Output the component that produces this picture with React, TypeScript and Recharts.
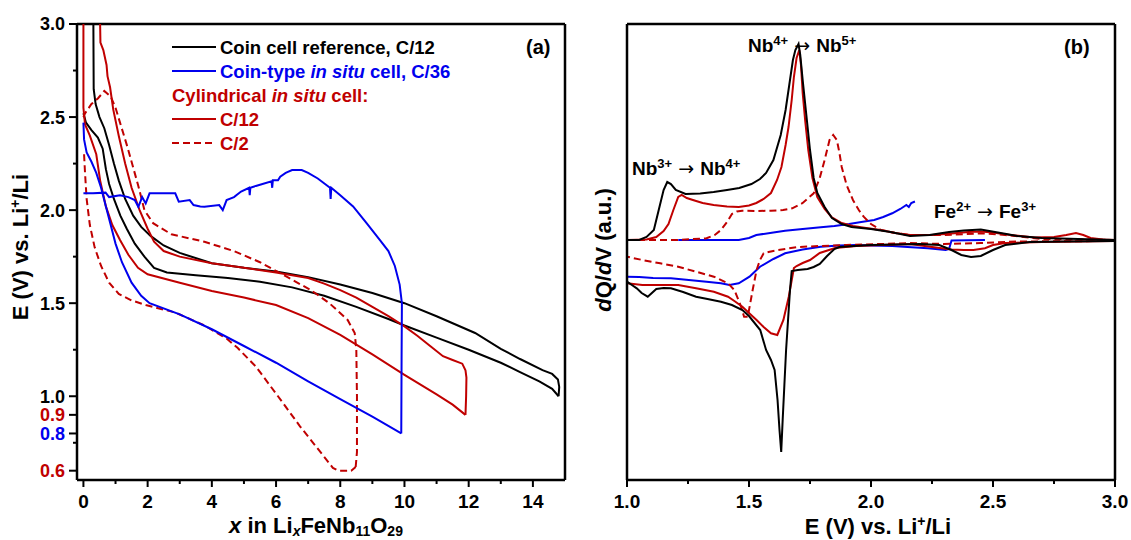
import React from 'react';
import { LineChart, Line, XAxis, YAxis, ReferenceLine } from 'recharts';

type Pt = [number, number];

// ---- (a) voltage profiles: [x in LixFeNb11O29, E (V)] ----
const coinRefDischarge: Pt[] = [
  [0, 2.52], [0.08, 2.47], [0.25, 2.43], [0.45, 2.39], [0.6, 2.33], [0.7, 2.22], [0.8, 2.14],
  [0.95, 2.06], [1.15, 1.97], [1.35, 1.9], [1.6, 1.82], [1.9, 1.75], [2.2, 1.69], [2.6, 1.665],
  [3.5, 1.65], [4.5, 1.635], [5.5, 1.615], [6.5, 1.585], [7.5, 1.54], [8.5, 1.48], [9.5, 1.415],
  [10, 1.38], [11, 1.315], [12, 1.25], [13, 1.18], [13.6, 1.13], [14.2, 1.08], [14.6, 1.04], [14.8, 1.0],
];
const coinRefCharge: Pt[] = [
  [14.8, 1.0], [14.82, 1.05], [14.78, 1.09], [14.6, 1.12], [14.3, 1.14], [13.6, 1.2], [13, 1.255],
  [12.2, 1.34], [11, 1.43], [10, 1.5], [9, 1.555], [8, 1.6], [7, 1.64], [6, 1.67], [5, 1.69],
  [4, 1.715], [3, 1.77], [2.5, 1.81], [2.1, 1.86], [1.8, 1.91], [1.55, 1.97], [1.3, 2.06],
  [1.1, 2.16], [0.95, 2.25], [0.8, 2.35], [0.65, 2.44], [0.5, 2.5], [0.38, 2.57], [0.32, 2.65], [0.31, 3.0],
];
const insituCoinDischarge: Pt[] = [
  [0, 2.47], [0.02, 2.38], [0.1, 2.31], [0.25, 2.26], [0.4, 2.2], [0.55, 2.12], [0.7, 2.02],
  [0.85, 1.92], [1.0, 1.82], [1.2, 1.72], [1.5, 1.61], [1.8, 1.54], [2.06, 1.5], [3, 1.44],
  [4, 1.36], [5, 1.27], [6, 1.18], [7, 1.08], [8, 0.985], [9, 0.89], [9.9, 0.8],
];
const insituCoinCharge: Pt[] = [
  [9.9, 0.8], [9.91, 1.2], [9.92, 1.5], [9.85, 1.6], [9.7, 1.7], [9.5, 1.78], [9.23, 1.84],
  [8.82, 1.93], [8.4, 2.02], [8.0, 2.08], [7.72, 2.12], [7.7, 2.06], [7.68, 2.12], [7.3, 2.17],
  [7.0, 2.2], [6.8, 2.215], [6.5, 2.215], [6.3, 2.2], [6.13, 2.18], [6.06, 2.16], [5.9, 2.16],
  [5.88, 2.12], [5.86, 2.155], [5.37, 2.13], [5.2, 2.12], [5.18, 2.08], [5.16, 2.12], [4.91, 2.1],
  [4.69, 2.07], [4.46, 2.054], [4.34, 2.0], [4.23, 2.027], [3.77, 2.018], [3.64, 2.02],
  [3.43, 2.027], [3.31, 2.054], [2.97, 2.045], [2.86, 2.09], [2.3, 2.09], [2.06, 2.09],
  [1.94, 2.036], [1.83, 2.07], [1.71, 2.018], [1.6, 2.054], [1.4, 2.07], [1.14, 2.08],
  [0.8, 2.07], [0.69, 2.094], [0.3, 2.09], [0, 2.09],
];
const cylSlowDischarge: Pt[] = [
  [0, 3.0], [0, 2.55], [0.05, 2.46], [0.2, 2.4], [0.4, 2.3], [0.52, 2.16], [0.7, 2.02],
  [0.9, 1.92], [1.14, 1.84], [1.4, 1.76], [1.7, 1.69], [2.0, 1.655], [3, 1.61], [4, 1.565],
  [5, 1.53], [6, 1.49], [7, 1.42], [8, 1.33], [9, 1.225], [10, 1.115], [11, 1.01], [11.5, 0.955], [11.9, 0.9],
];
const cylSlowCharge: Pt[] = [
  [11.9, 0.9], [11.92, 1.0], [11.93, 1.1], [11.9, 1.14], [11.8, 1.175], [11.5, 1.195],
  [11.2, 1.215], [10.8, 1.27], [10.4, 1.325], [10, 1.375], [9.5, 1.43], [9, 1.48], [8.5, 1.53],
  [8, 1.57], [7.5, 1.605], [7, 1.635], [6, 1.665], [5, 1.69], [4, 1.715], [3, 1.75], [2.5, 1.78],
  [2.2, 1.83], [2.0, 1.9], [1.75, 2.0], [1.5, 2.12], [1.3, 2.25], [1.1, 2.4], [0.93, 2.54],
  [0.83, 2.66], [0.75, 2.72], [0.72, 2.78], [0.62, 2.86], [0.53, 2.9], [0.52, 3.0],
];
const cylFastDischarge: Pt[] = [
  [0.02, 2.3], [0.05, 2.2], [0.1, 2.06], [0.2, 1.92], [0.35, 1.8], [0.55, 1.7], [0.8, 1.61],
  [1.1, 1.55], [1.5, 1.515], [1.94, 1.49], [2.86, 1.45], [3.77, 1.38], [4.46, 1.31], [4.8, 1.26],
  [5.37, 1.16], [6.06, 1.0], [6.74, 0.84], [7.43, 0.69], [7.77, 0.615], [7.95, 0.6], [8.34, 0.6], [8.48, 0.62],
];
const cylFastCharge: Pt[] = [
  [8.48, 0.62], [8.52, 0.7], [8.52, 1.0], [8.5, 1.25], [8.45, 1.34], [8.23, 1.41], [7.66, 1.5],
  [7.09, 1.57], [6.3, 1.645], [5.5, 1.72], [4.69, 1.78], [3.77, 1.83], [2.74, 1.87], [2.17, 1.93],
  [1.9, 2.0], [1.71, 2.13], [1.37, 2.34], [1.14, 2.47], [1.0, 2.55], [0.85, 2.61], [0.65, 2.64],
  [0.45, 2.6], [0.25, 2.57], [0.05, 2.52], [0, 2.5],
];

const xTicksA = [0, 1, 2, 3, 4, 5, 6, 7, 8, 9, 10, 11, 12, 13, 14];
const yTicksA = [0.6, 0.75, 0.8, 0.9, 1.0, 1.25, 1.5, 1.75, 2.0, 2.25, 2.5, 2.75, 3.0];
const yLabelColorsA: Record<string, string> = {
  '0.6': '#c00000', '0.8': '#0000ee', '0.9': '#c00000', '1.0': '#000', '1.5': '#000',
  '2.0': '#000', '2.5': '#000', '3.0': '#000',
};

// ---- (b) differential capacity: [E (V), dQ/dV (a.u.)] ----
const coinRefOx: Pt[] = [
  [1.0, 0], [1.05, 0], [1.08, 0.03], [1.11, 0.1], [1.13, 0.3], [1.15, 0.5], [1.165, 0.58],
  [1.18, 0.56], [1.2, 0.5], [1.24, 0.46], [1.3, 0.465], [1.355, 0.48], [1.41, 0.5], [1.46, 0.52],
  [1.51, 0.56], [1.545, 0.61], [1.57, 0.67], [1.6, 0.8], [1.63, 1.05], [1.65, 1.3], [1.665, 1.55],
  [1.68, 1.8], [1.69, 1.9], [1.703, 1.96], [1.71, 1.85], [1.72, 1.6], [1.735, 1.25], [1.75, 0.9],
  [1.765, 0.62], [1.78, 0.47], [1.81, 0.33], [1.84, 0.22], [1.88, 0.16], [1.92, 0.13], [2.0, 0.11],
  [2.08, 0.08], [2.16, 0.04], [2.24, 0.05], [2.32, 0.08], [2.38, 0.095], [2.45, 0.105],
  [2.52, 0.075], [2.6, 0.04], [2.7, 0.02], [2.85, 0.01], [3.0, 0],
];
const coinRefRed: Pt[] = [
  [3.0, -0.01], [2.8, -0.015], [2.65, -0.02], [2.55, -0.05], [2.5, -0.1], [2.45, -0.16],
  [2.41, -0.17], [2.37, -0.15], [2.33, -0.1], [2.28, -0.05], [2.2, -0.04], [2.1, -0.045],
  [2.0, -0.05], [1.93, -0.06], [1.87, -0.07], [1.85, -0.09], [1.82, -0.16], [1.79, -0.24],
  [1.765, -0.27], [1.74, -0.29], [1.7, -0.3], [1.675, -0.31], [1.668, -0.5], [1.66, -0.8],
  [1.652, -1.1], [1.645, -1.45], [1.638, -1.8], [1.632, -2.12], [1.625, -1.9], [1.617, -1.6],
  [1.605, -1.3], [1.59, -1.2], [1.57, -1.1], [1.546, -0.9], [1.5, -0.76], [1.473, -0.7],
  [1.43, -0.65], [1.385, -0.617], [1.33, -0.59], [1.283, -0.567], [1.23, -0.52], [1.18, -0.483],
  [1.15, -0.48], [1.12, -0.49], [1.085, -0.567], [1.06, -0.53], [1.04, -0.483], [1.02, -0.45], [1.0, -0.417],
];
const cylSlowOx: Pt[] = [
  [1.0, 0], [1.08, 0.005], [1.12, 0.03], [1.15, 0.09], [1.17, 0.16], [1.19, 0.3], [1.21, 0.43],
  [1.224, 0.45], [1.245, 0.42], [1.27, 0.4], [1.31, 0.37], [1.355, 0.35], [1.41, 0.335],
  [1.458, 0.33], [1.5, 0.345], [1.53, 0.37], [1.56, 0.41], [1.59, 0.47], [1.615, 0.6],
  [1.633, 0.73], [1.65, 0.95], [1.662, 1.13], [1.675, 1.4], [1.684, 1.63], [1.695, 1.82],
  [1.706, 1.9], [1.713, 1.75], [1.72, 1.47], [1.73, 1.2], [1.743, 0.9], [1.76, 0.62], [1.78, 0.43],
  [1.81, 0.31], [1.838, 0.23], [1.88, 0.17], [1.926, 0.14], [1.98, 0.12], [2.04, 0.1], [2.1, 0.07],
  [2.16, 0.05], [2.25, 0.05], [2.33, 0.065], [2.4, 0.08], [2.45, 0.085], [2.5, 0.075], [2.57, 0.05],
  [2.67, 0.025], [2.75, 0.03], [2.8, 0.05], [2.84, 0.07], [2.87, 0.05], [2.9, 0.02], [2.95, 0.005], [3.0, 0],
];
const cylSlowRed: Pt[] = [
  [3.0, -0.01], [2.7, -0.02], [2.55, -0.03], [2.5, -0.05], [2.467, -0.083], [2.42, -0.1],
  [2.38, -0.1], [2.33, -0.095], [2.25, -0.07], [2.16, -0.04], [2.04, -0.05], [1.94, -0.06],
  [1.853, -0.08], [1.79, -0.13], [1.75, -0.2], [1.72, -0.23], [1.695, -0.26], [1.684, -0.28],
  [1.663, -0.567], [1.641, -0.8], [1.616, -0.95], [1.59, -0.933], [1.56, -0.87], [1.531, -0.8],
  [1.5, -0.73], [1.473, -0.667], [1.44, -0.61], [1.414, -0.567], [1.356, -0.517], [1.283, -0.483],
  [1.21, -0.45], [1.13, -0.45], [1.063, -0.45], [1.0, -0.433],
];
const cylFastOx: Pt[] = [
  [1.0, 0], [1.2, 0], [1.326, 0.017], [1.36, 0.05], [1.385, 0.1], [1.41, 0.18], [1.43, 0.26],
  [1.45, 0.285], [1.472, 0.293], [1.53, 0.29], [1.59, 0.293], [1.64, 0.3], [1.677, 0.317],
  [1.72, 0.37], [1.765, 0.467], [1.79, 0.62], [1.81, 0.8], [1.83, 1.0], [1.845, 1.05], [1.86, 1.0],
  [1.87, 0.88], [1.88, 0.73], [1.9, 0.55], [1.926, 0.4], [1.95, 0.3], [1.97, 0.233], [2.0, 0.16],
  [2.04, 0.1], [2.1, 0.07], [2.16, 0.05], [2.3, 0.05], [2.45, 0.067], [2.55, 0.05], [2.7, 0.01], [3.0, 0],
];
const cylFastRed: Pt[] = [
  [3.0, -0.01], [2.6, -0.015], [2.45, -0.03], [2.3, -0.04], [2.16, -0.03], [2.04, -0.04],
  [1.9, -0.05], [1.79, -0.06], [1.7, -0.07], [1.62, -0.1], [1.58, -0.12], [1.56, -0.133],
  [1.545, -0.2], [1.531, -0.3], [1.515, -0.5], [1.505, -0.633], [1.495, -0.767], [1.48, -0.767],
  [1.465, -0.65], [1.44, -0.5], [1.414, -0.433], [1.356, -0.367], [1.283, -0.317], [1.21, -0.267],
  [1.136, -0.233], [1.063, -0.2], [1.0, -0.167],
];
const insituCoinOx: Pt[] = [
  [1.21, 0], [1.458, 0], [1.5, 0.02], [1.53, 0.05], [1.6, 0.075], [1.648, 0.093], [1.72, 0.11],
  [1.794, 0.127], [1.85, 0.14], [1.91, 0.16], [1.96, 0.18], [2.013, 0.2], [2.05, 0.23],
  [2.087, 0.267], [2.12, 0.31], [2.145, 0.35], [2.155, 0.33], [2.165, 0.37], [2.18, 0.385],
];
const insituCoinRed: Pt[] = [
  [2.467, 0], [2.33, -0.005], [2.32, -0.09], [2.306, -0.1], [2.233, -0.083], [2.15, -0.07],
  [2.087, -0.06], [2.0, -0.055], [1.94, -0.05], [1.87, -0.055], [1.794, -0.067], [1.72, -0.095],
  [1.648, -0.133], [1.6, -0.19], [1.545, -0.267], [1.531, -0.3], [1.502, -0.367], [1.458, -0.433],
  [1.42, -0.45], [1.385, -0.433], [1.326, -0.417], [1.253, -0.4], [1.18, -0.383], [1.107, -0.38],
  [1.05, -0.37], [1.0, -0.367],
];

const xTicksB = [1.0, 1.25, 1.5, 1.75, 2.0, 2.25, 2.5, 2.75, 3.0];

const BLACK = '#000000';
const RED = '#c00000';
const BLUE = '#0000ee';
const FONT = 'Arial, "Liberation Sans", Helvetica, sans-serif';
const ARROW_FONT = '"DejaVu Sans", sans-serif';
const DASH = '7 4';

const rows = (pts: Pt[]) => pts.map(([x, y]) => ({ x, y }));

const curve = (pts: Pt[], color: string, key: string, dashed = false) => (
  <Line
    key={key}
    data={rows(pts)}
    dataKey="y"
    type="linear"
    stroke={color}
    strokeWidth={2}
    strokeDasharray={dashed ? DASH : undefined}
    dot={false}
    activeDot={false}
    isAnimationActive={false}
  />
);

// bottom ticks: tickSize/tickMargin are 0 so (x, y) sits on the axis line
const bottomTick = (isMajor: (v: number) => boolean, fmt: (v: number) => string) => (props: any) => {
  const { x, y, payload } = props;
  const v = payload.value as number;
  const major = isMajor(v);
  return (
    <g>
      <line x1={x} y1={y} x2={x} y2={y + (major ? 7 : 4)} stroke={BLACK} strokeWidth={2} />
      {major && (
        <text x={x} y={y + 28} textAnchor="middle" fontFamily={FONT} fontWeight="bold" fontSize={19} fill={BLACK}>
          {fmt(v)}
        </text>
      )}
    </g>
  );
};

const leftTickA = (props: any) => {
  const { x, y, payload } = props;
  const key = (payload.value as number).toFixed(1);
  const color = yLabelColorsA[key];
  const major = color !== undefined && Math.abs(payload.value * 100 - Math.round(payload.value * 10) * 10) < 1e-6;
  return (
    <g>
      <line x1={x} y1={y} x2={x - (major ? 8 : 4)} y2={y} stroke={BLACK} strokeWidth={2} />
      {major && (
        <text x={x - 12} y={y} dy="0.36em" textAnchor="end" fontFamily={FONT} fontWeight="bold" fontSize={18} fill={color}>
          {key}
        </text>
      )}
    </g>
  );
};

const axisStyle = { stroke: BLACK, strokeWidth: 2.5 };

function VoltageProfiles() {
  return (
    <LineChart width={600} height={540} margin={{ top: 24, right: 35, bottom: 30, left: 17 }}>
      <XAxis
        type="number"
        dataKey="x"
        domain={[-0.2, 15]}
        allowDataOverflow
        ticks={xTicksA}
        interval={0}
        height={30}
        tickSize={0}
        tickMargin={0}
        tickLine={false}
        axisLine={axisStyle}
        tick={bottomTick((v) => v % 2 === 0, (v) => String(v))}
      />
      <YAxis
        type="number"
        domain={[0.55, 3.0]}
        allowDataOverflow
        ticks={yTicksA}
        interval={0}
        width={60}
        tickSize={0}
        tickMargin={0}
        tickLine={false}
        axisLine={axisStyle}
        tick={leftTickA}
      />
      <ReferenceLine y={3.0} stroke={BLACK} strokeWidth={2.5} />
      <ReferenceLine x={15} stroke={BLACK} strokeWidth={2.5} />
      {curve(coinRefDischarge, BLACK, 'crd')}
      {curve(coinRefCharge, BLACK, 'crc')}
      {curve(cylFastDischarge, RED, 'cfd', true)}
      {curve(cylFastCharge, RED, 'cfc', true)}
      {curve(cylSlowDischarge, RED, 'csd')}
      {curve(cylSlowCharge, RED, 'csc')}
      {curve(insituCoinDischarge, BLUE, 'icd')}
      {curve(insituCoinCharge, BLUE, 'icc')}
    </LineChart>
  );
}

function DifferentialCapacity() {
  return (
    <LineChart width={571} height={540} margin={{ top: 24, right: 16, bottom: 30, left: 7 }}>
      <XAxis
        type="number"
        dataKey="x"
        domain={[1.0, 3.0]}
        allowDataOverflow
        ticks={xTicksB}
        interval={0}
        height={30}
        tickSize={0}
        tickMargin={0}
        tickLine={false}
        axisLine={axisStyle}
        tick={bottomTick((v) => Math.abs(v * 2 - Math.round(v * 2)) < 1e-6, (v) => v.toFixed(1))}
      />
      <YAxis
        type="number"
        domain={[-2.4, 2.16]}
        allowDataOverflow
        width={60}
        tick={false}
        tickLine={false}
        axisLine={axisStyle}
      />
      <ReferenceLine y={2.16} stroke={BLACK} strokeWidth={2.5} />
      <ReferenceLine x={3.0} stroke={BLACK} strokeWidth={2.5} />
      {curve(insituCoinOx, BLUE, 'io')}
      {curve(insituCoinRed, BLUE, 'ir')}
      {curve(cylFastOx, RED, 'fo', true)}
      {curve(cylFastRed, RED, 'fr', true)}
      {curve(cylSlowOx, RED, 'so')}
      {curve(cylSlowRed, RED, 'sr')}
      {curve(coinRefOx, BLACK, 'co')}
      {curve(coinRefRed, BLACK, 'cr')}
    </LineChart>
  );
}

const txt = { fontFamily: FONT, fontWeight: 'bold' as const };

// "Nb4+ → Nb5+" style labels with raised charges
function Transition({ x, y, from, to, a, b }: { x: number; y: number; from: string; to: string; a: string; b: string }) {
  return (
    <text x={x} y={y}>
      {from}
      <tspan fontSize={13} dy={-7}>{a}</tspan>
      <tspan dy={7} fontFamily={ARROW_FONT} fontWeight="normal" fontSize={19}> → </tspan>
      <tspan>{to}</tspan>
      <tspan fontSize={13} dy={-7}>{b}</tspan>
    </text>
  );
}

export default function App() {
  return (
    <div style={{ position: 'absolute', left: 0, top: 0, width: 1131, height: 540, background: '#fff' }}>
      <div style={{ position: 'absolute', left: 0, top: 0 }}>
        <VoltageProfiles />
      </div>
      <div style={{ position: 'absolute', left: 560, top: 0 }}>
        <DifferentialCapacity />
      </div>
      <svg
        width={1131}
        height={540}
        style={{ position: 'absolute', left: 0, top: 0, pointerEvents: 'none' }}
      >
        {/* legend of (a) */}
        <g {...txt} fontSize={18.5}>
          <line x1={172} y1={47} x2={216} y2={47} stroke={BLACK} strokeWidth={2.2} />
          <text x={220} y={54} fill={BLACK}>Coin cell reference, C/12</text>
          <line x1={172} y1={71} x2={216} y2={71} stroke={BLUE} strokeWidth={2.2} />
          <text x={220} y={78} fill={BLUE}>
            Coin-type <tspan fontStyle="italic">in situ</tspan> cell, C/36
          </text>
          <text x={172} y={102} fill={RED}>
            Cylindrical <tspan fontStyle="italic">in situ</tspan> cell:
          </text>
          <line x1={172} y1={119} x2={216} y2={119} stroke={RED} strokeWidth={2.2} />
          <text x={220} y={126} fill={RED}>C/12</text>
          <line x1={172} y1={143} x2={216} y2={143} stroke={RED} strokeWidth={2.2} strokeDasharray={DASH} />
          <text x={220} y={150} fill={RED}>C/2</text>
          <text x={526} y={54} fill={BLACK} fontSize={20}>(a)</text>
        </g>

        {/* annotations of (b) */}
        <g {...txt} fontSize={19} fill={BLACK}>
          <text x={1064} y={54} fontSize={20}>(b)</text>
          <Transition x={748} y={52} from="Nb" to="Nb" a="4+" b="5+" />
          <Transition x={632} y={175} from="Nb" to="Nb" a="3+" b="4+" />
          <Transition x={934} y={218} from="Fe" to="Fe" a="2+" b="3+" />
        </g>

        {/* axis titles */}
        <g {...txt} fontSize={22} fill={BLACK}>
          <text x={316} y={533} textAnchor="middle">
            <tspan fontStyle="italic">x</tspan> in Li
            <tspan fontSize={14} dy={3} fontStyle="italic">x</tspan>
            <tspan dy={-3}>FeNb</tspan>
            <tspan fontSize={14} dy={3}>11</tspan>
            <tspan dy={-3}>O</tspan>
            <tspan fontSize={14} dy={3}>29</tspan>
          </text>
          <text transform="translate(28, 247) rotate(-90)" textAnchor="middle">
            E (V) vs. Li<tspan fontSize={14} dy={-8}>+</tspan>
            <tspan dy={8}>/Li</tspan>
          </text>
          <text x={878} y={534} textAnchor="middle">
            E (V) vs. Li<tspan fontSize={14} dy={-8}>+</tspan>
            <tspan dy={8}>/Li</tspan>
          </text>
          <text transform="translate(611, 250) rotate(-90)" textAnchor="middle">
            <tspan fontStyle="italic">d</tspan>Q/<tspan fontStyle="italic">d</tspan>V (a.u.)
          </text>
        </g>
      </svg>
    </div>
  );
}
